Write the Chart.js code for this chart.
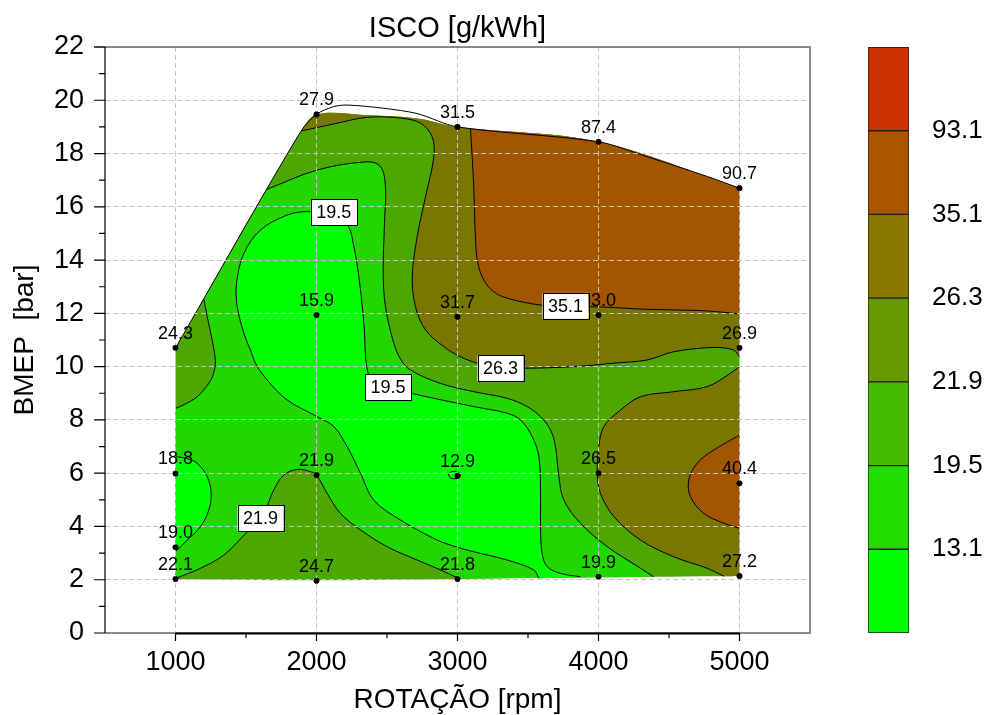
<!DOCTYPE html>
<html>
<head>
<meta charset="utf-8">
<script src="https://cdn.jsdelivr.net/npm/chart.js@4.4.1/dist/chart.umd.min.js"></script>
<style>
  html, body { margin: 0; padding: 0; background: #fff; }
  #wrap { position: relative; width: 992px; height: 715px; overflow: hidden; }
  #map { position: absolute; left: 0; top: 0; }
  #scale { position: absolute; left: 850px; top: 0; }
</style>
</head>
<body>
<div id="wrap">
  <canvas id="map" width="992" height="715"></canvas>
  <canvas id="scale" width="142" height="715"></canvas>
</div>
<script>
const FONT = "'Liberation Sans', Arial, Helvetica, sans-serif";
Chart.defaults.font.family = FONT;
Chart.defaults.color = '#000';

// ---- axes ----
const rpmTicks = [1000, 2000, 3000, 4000, 5000];
const rpmMinorTicks = [1500, 2500, 3500, 4500];
const bmepTicks = [0, 2, 4, 6, 8, 10, 12, 14, 16, 18, 20, 22];
const bmepMinorTicks = [1, 3, 5, 7, 9, 11, 13, 15, 17, 19, 21];

// ---- colour scale ----
const levels = [13.1, 19.5, 21.9, 26.3, 35.1, 93.1];
const levelColors = ['#00ff00', '#22dd00', '#44bb00', '#669900', '#887700', '#aa5500', '#cc3300'];

// fills on the map: <19.5, 19.5-21.9, 21.9-26.3, 26.3-35.1, >35.1
const bandFills = ['#00ff00', '#22d600', '#4ca800', '#787800', '#a25600'];

// ---- measured operating points ----
const rpm  = [1000, 1000, 1000, 1000, 2000, 2000, 2000, 2000, 3000, 3000, 3000, 3000, 4000, 4000, 4000, 4000, 5000, 5000, 5000, 5000];
const bmep = [2.03, 3.22, 5.99, 10.71, 1.96, 5.93, 11.94, 19.47, 2.03, 5.9, 11.87, 19.0, 2.11, 6.0, 11.94, 18.44, 2.14, 5.62, 10.71, 16.7];
const isco = [22.1, 19.0, 18.8, 24.3, 24.7, 21.9, 15.9, 27.9, 21.8, 12.9, 31.7, 31.5, 19.9, 26.5, 33.0, 87.4, 27.2, 40.4, 26.9, 90.7];

// ---- map boundary [rpm, bar] ----
const mapBottom = [[1000, 2.02], [2000, 1.98], [3000, 2.03], [4000, 2.09], [5000, 2.14]];
const mapTop = [[5000, 16.7], [4000, 18.44], [3000, 19.0], [2714, 19.32], [2360, 19.44], [2000, 19.47], [1887, 18.82], [1000, 10.7]];
const mapOutline = [[1000, 10.7], [1887, 18.82], [2000, 19.47], [2121, 19.76], [2218, 19.82], [2475, 19.7], [2714, 19.5], [3000, 19.0], [4000, 18.44], [4345, 17.88], [4771, 17.14], [5000, 16.7]];

// ---- iso-lines [rpm, bar] ----
const iso131 = [[2937, 5.93], [2950, 6.04], [2979, 6.07], [3008, 6.04], [3021, 5.93], [3008, 5.82], [2979, 5.79], [2950, 5.82], [2937, 5.93]];
const iso195Main = [[3577, 2.05], [3541, 2.37], [3352, 2.74], [3116, 3.05], [2950, 3.3], [2832, 3.55], [2596, 4.24], [2406, 4.99], [2312, 6.0], [2218, 6.99], [2123, 7.75], [2005, 8.12], [1792, 8.75], [1650, 9.5], [1570, 10.1], [1532, 10.62], [1485, 11.25], [1438, 12.25], [1433, 13.13], [1485, 14.25], [1603, 15.13], [1792, 15.69], [1934, 15.82], [2080, 15.72], [2218, 15.32], [2265, 14.5], [2300, 13.38], [2336, 11.63], [2360, 9.87], [2420, 9.35], [2550, 9.1], [2667, 9.0], [2832, 8.81], [3116, 8.5], [3352, 8.25], [3447, 8.0], [3530, 7.37], [3577, 6.62], [3589, 5.24], [3589, 3.99], [3600, 2.99], [3636, 2.49], [3730, 2.24], [3872, 2.11]];
const iso195Left = [[1000, 6.62], [1080, 6.55], [1154, 6.37], [1225, 5.87], [1253, 5.24], [1236, 4.62], [1177, 3.99], [1083, 3.49], [1000, 3.05]];
const iso219Upper = [[1650, 16.66], [2005, 17.38], [2360, 17.69], [2454, 17.51], [2489, 16.76], [2482, 15.38], [2473, 13.5], [2489, 12.25], [2548, 10.88], [2600, 10.25], [2667, 9.87], [2879, 9.37], [3116, 9.06], [3352, 8.81], [3494, 8.5], [3589, 8.12], [3660, 7.62], [3695, 6.99], [3719, 5.87], [3754, 4.99], [3872, 4.12], [4062, 3.24], [4298, 2.43], [4392, 2.11]];
const iso219Left = [[1201, 12.54], [1225, 11.87], [1260, 11.0], [1283, 10.2], [1270, 9.75], [1240, 9.4], [1154, 8.87], [1070, 8.6], [1000, 8.43]];
const iso219Lower = [[1000, 2.05], [1177, 2.43], [1343, 2.93], [1500, 3.75], [1603, 4.32], [1650, 4.78], [1697, 5.37], [1768, 5.93], [1863, 6.14], [1957, 6.06], [2000, 5.93], [2076, 5.24], [2170, 4.49], [2312, 3.87], [2501, 3.24], [2714, 2.74], [2879, 2.37], [3010, 2.04]];
const iso263Upper = [[1893, 18.85], [2123, 19.11], [2360, 19.36], [2596, 19.33], [2738, 19.14], [2820, 18.63], [2832, 17.88], [2773, 16.38], [2714, 14.88], [2679, 13.38], [2702, 12.25], [2773, 11.38], [2903, 10.75], [3021, 10.37], [3160, 10.1], [3305, 9.98], [3470, 9.94], [3825, 10.0], [4109, 10.13], [4345, 10.25], [4534, 10.56], [4818, 10.72], [4959, 10.62], [5000, 10.37]];
const iso263Lower = [[5000, 10.0], [4936, 9.75], [4771, 9.25], [4534, 9.06], [4298, 8.87], [4156, 8.37], [4038, 7.75], [4002, 6.99], [3991, 6.0], [4014, 5.24], [4109, 4.37], [4298, 3.49], [4534, 2.86], [4771, 2.43], [4889, 2.13]];
const iso351Upper = [[3092, 18.95], [3104, 17.88], [3116, 16.63], [3128, 14.75], [3144, 13.88], [3187, 13.25], [3257, 12.81], [3352, 12.57], [3589, 12.31], [3766, 12.27], [4062, 12.23], [4298, 12.16], [4534, 12.13], [4771, 12.09], [5000, 11.98]];
const iso351Lower = [[5000, 7.43], [4818, 6.87], [4699, 6.37], [4640, 5.74], [4652, 5.12], [4746, 4.49], [4889, 4.12], [5000, 3.93]];

// ---- iso-line labels ----
const labelLevel = [19.5, 19.5, 21.9, 26.3, 35.1];
const labelRpm   = [2123, 2507, 1603, 3305, 3766];
const labelBmep  = [15.79, 9.23, 4.31, 9.94, 12.28];

const rev = a => a.slice().reverse();

// closed outline from boundary pieces; each piece's ends are doubled so
// the smoothing keeps the corners where pieces meet
function ring(parts) {
  const out = [];
  parts.forEach(p => {
    out.push(p[0]);
    p.forEach(q => out.push(q));
    out.push(p[p.length - 1]);
  });
  return out;
}

// painted in this order, later ones on top
const regions = [
  { color: bandFills[2], parts: [mapBottom, [[5000, 2.14], [5000, 16.7]], mapTop, [[1000, 10.7], [1000, 2.02]]] },
  { color: bandFills[3], parts: [[[1893, 18.85], [2000, 19.47], [2360, 19.44], [2714, 19.32], [3000, 19.0], [4000, 18.44], [5000, 16.7]], [[5000, 16.7], [5000, 10.37]], rev(iso263Upper)] },
  { color: bandFills[3], parts: [iso263Lower, [[4889, 2.13], [5000, 2.14]], [[5000, 2.14], [5000, 10.0]]] },
  { color: bandFills[4], parts: [[[3092, 18.95], [4000, 18.44], [5000, 16.7]], [[5000, 16.7], [5000, 11.98]], rev(iso351Upper)] },
  { color: bandFills[4], parts: [iso351Lower, [[5000, 3.93], [5000, 7.43]]] },
  { color: bandFills[1], parts: [iso219Upper, [[4392, 2.11], [4000, 2.09], [3010, 2.04]], rev(iso219Lower), [[1000, 2.05], [1000, 8.43]], rev(iso219Left), [[1201, 12.54], [1650, 16.66]]] },
  { color: bandFills[0], parts: [iso195Main, [[3872, 2.11], [3577, 2.05]]] },
  { color: bandFills[0], parts: [iso195Left, [[1000, 3.05], [1000, 6.62]]] }
];

const isoLines = [iso131, iso195Main, iso195Left, iso219Upper, iso219Left, iso219Lower, iso263Upper, iso263Lower, iso351Upper, iso351Lower];

const xy = arr => arr.map(([x, y]) => ({ x, y }));
const TENSION = 0.35;

const datasets = [];
regions.forEach((r, i) => {
  datasets.push({
    data: xy(ring(r.parts)),
    backgroundColor: r.color,
    borderColor: 'rgba(0,0,0,0)',
    borderWidth: 0,
    pointRadius: 0,
    fill: 'shape',
    tension: TENSION,
    order: 100 - i
  });
});
isoLines.forEach(line => {
  datasets.push({
    data: xy(line),
    borderColor: '#000',
    borderWidth: 1,
    pointRadius: 0,
    fill: false,
    tension: TENSION,
    order: 20
  });
});
datasets.push({
  data: xy(mapOutline),
  borderColor: '#000',
  borderWidth: 1,
  pointRadius: 0,
  fill: false,
  tension: 0.3,
  order: 15
});
const POINTS = datasets.length;
datasets.push({
  data: rpm.map((r, i) => ({ x: r, y: bmep[i] })),
  showLine: false,
  pointRadius: 2.8,
  pointBackgroundColor: '#000',
  pointBorderColor: '#000',
  pointBorderWidth: 0,
  order: 10
});

const mapDecor = {
  id: 'mapDecor',
  afterDraw(chart) {
    const { ctx, chartArea: a, scales: { x, y } } = chart;
    ctx.save();

    // plot frame
    ctx.strokeStyle = '#6a6a6a';
    ctx.lineWidth = 1.5;
    ctx.beginPath();
    ctx.moveTo(a.left - 11, a.top);
    ctx.lineTo(a.right, a.top);
    ctx.lineTo(a.right, a.bottom);
    ctx.lineTo(a.left, a.bottom);
    ctx.stroke();

    // value axis line and ticks
    ctx.strokeStyle = '#000';
    ctx.lineWidth = 1.2;
    ctx.beginPath();
    ctx.moveTo(a.left, a.top);
    ctx.lineTo(a.left, a.bottom);
    bmepTicks.forEach(v => { const p = y.getPixelForValue(v); ctx.moveTo(a.left - 11, p); ctx.lineTo(a.left, p); });
    bmepMinorTicks.forEach(v => { const p = y.getPixelForValue(v); ctx.moveTo(a.left - 6, p); ctx.lineTo(a.left, p); });
    ctx.stroke();

    // speed axis line and ticks
    const x0 = x.getPixelForValue(rpmTicks[0]);
    const x1 = x.getPixelForValue(rpmTicks[rpmTicks.length - 1]);
    ctx.lineWidth = 2;
    ctx.beginPath();
    ctx.moveTo(x0, a.bottom + 0.5);
    ctx.lineTo(x1, a.bottom + 0.5);
    ctx.stroke();
    ctx.lineWidth = 1.2;
    ctx.beginPath();
    rpmTicks.forEach(v => { const p = x.getPixelForValue(v); ctx.moveTo(p, a.bottom); ctx.lineTo(p, a.bottom + 8); });
    rpmMinorTicks.forEach(v => { const p = x.getPixelForValue(v); ctx.moveTo(p, a.bottom); ctx.lineTo(p, a.bottom + 5); });
    ctx.stroke();

    // measured points stay above the grid
    chart.getDatasetMeta(POINTS).data.forEach(pt => pt.draw(ctx, a));

    // point values
    ctx.font = '18px ' + FONT;
    ctx.fillStyle = '#000';
    ctx.textAlign = 'center';
    ctx.textBaseline = 'middle';
    rpm.forEach((r, i) => {
      ctx.fillText(isco[i].toFixed(1), x.getPixelForValue(r), y.getPixelForValue(bmep[i]) - 14);
    });

    // iso-line labels
    labelLevel.forEach((lv, i) => {
      const cx = x.getPixelForValue(labelRpm[i]);
      const cy = y.getPixelForValue(labelBmep[i]);
      const w = 46, h = 26;
      ctx.fillStyle = '#fff';
      ctx.fillRect(cx - w / 2, cy - h / 2, w, h);
      ctx.strokeStyle = '#000';
      ctx.lineWidth = 1;
      ctx.strokeRect(Math.round(cx - w / 2) + 0.5, Math.round(cy - h / 2) + 0.5, w, h);
      ctx.fillStyle = '#000';
      ctx.fillText(lv.toFixed(1), cx, cy + 1);
    });
    ctx.restore();
  }
};

new Chart(document.getElementById('map'), {
  type: 'line',
  data: { datasets },
  options: {
    responsive: false,
    devicePixelRatio: 1,
    animation: false,
    events: [],
    layout: { padding: { top: 0, right: 182, bottom: 0, left: 0 } },
    plugins: {
      legend: { display: false },
      tooltip: { enabled: false },
      title: {
        display: true,
        fullSize: false,
        text: 'ISCO [g/kWh]',
        color: '#000',
        font: { size: 29, weight: 'normal', lineHeight: 1 },
        padding: { top: 14, bottom: 4 }
      }
    },
    scales: {
      x: {
        type: 'linear',
        min: 500,
        max: 5500,
        afterBuildTicks: s => { s.ticks = rpmTicks.map(v => ({ value: v })); },
        afterFit: s => { s.height = 82; },
        grid: { color: '#c4c4c4', lineWidth: 1, drawTicks: false, z: 1 },
        border: { display: false, dash: [5, 3] },
        ticks: { callback: v => String(v), font: { size: 27 }, color: '#000', padding: 13, maxRotation: 0, autoSkip: false },
        title: { display: true, text: 'ROTAÇÃO [rpm]', color: '#000', font: { size: 28, lineHeight: 1 }, padding: { top: 0, bottom: 1 } }
      },
      y: {
        type: 'linear',
        min: 0,
        max: 22,
        afterBuildTicks: s => { s.ticks = bmepTicks.map(v => ({ value: v })); },
        afterFit: s => { s.width = 105; },
        grid: { color: '#c4c4c4', lineWidth: 1, drawTicks: false, z: 1 },
        border: { display: false, dash: [5, 3] },
        ticks: { callback: v => String(v), font: { size: 27 }, color: '#000', padding: 21, autoSkip: false },
        title: { display: true, text: 'BMEP  [bar]', color: '#000', font: { size: 28, lineHeight: 1 }, padding: { top: 11, bottom: 0 } }
      }
    }
  },
  plugins: [mapDecor]
});

// colour bar
new Chart(document.getElementById('scale'), {
  type: 'bar',
  data: {
    labels: [''],
    datasets: levelColors.map(c => ({
      data: [1],
      backgroundColor: c,
      borderColor: '#1e1e1e',
      borderWidth: 1,
      borderSkipped: false,
      barPercentage: 1,
      categoryPercentage: 1
    }))
  },
  options: {
    responsive: false,
    devicePixelRatio: 1,
    animation: false,
    events: [],
    layout: { padding: { top: 47, right: 0, bottom: 82, left: 18 } },
    plugins: { legend: { display: false }, tooltip: { enabled: false } },
    scales: {
      x: { stacked: true, display: false },
      y: {
        stacked: true,
        position: 'right',
        min: 0,
        max: levelColors.length,
        afterBuildTicks: s => { s.ticks = levels.map((v, i) => ({ value: i + 1 })); },
        afterFit: s => { s.width = 83; },
        grid: { display: false, drawTicks: false },
        border: { display: false },
        ticks: { callback: v => levels[v - 1].toFixed(1), font: { size: 26 }, color: '#000', padding: 23, autoSkip: false }
      }
    }
  }
});
</script>
</body>
</html>
